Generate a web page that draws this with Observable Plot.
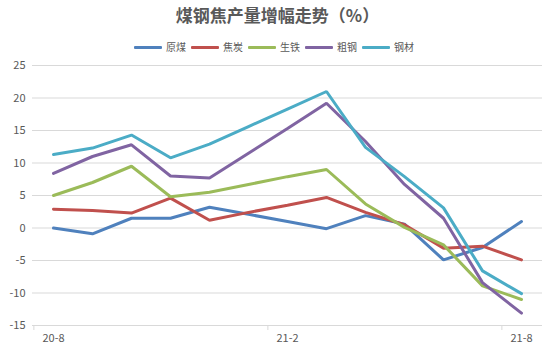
<!DOCTYPE html>
<html>
<head>
<meta charset="utf-8">
<script src="https://cdn.jsdelivr.net/npm/d3@7"></script>
<script src="https://cdn.jsdelivr.net/npm/@observablehq/plot@0.6"></script>
<style>
  html, body { margin: 0; padding: 0; background: #fff; }
  #wrap { position: relative; width: 555px; height: 352px; overflow: hidden; font-family: "Noto Sans CJK SC", "Noto Sans", sans-serif; }
  #title { position: absolute; left: 0; top: 3px; width: 555px; text-align: center; font-size: 17px; font-weight: bold; color: #595959; line-height: 24px; }
  #legend { position: absolute; left: 0; top: 38px; width: 553px; display: flex; justify-content: center; align-items: center; font-size: 10px; color: #595959; line-height: 18px; }
  .item { display: flex; align-items: center; margin-right: 5px; }
  .sw { width: 28px; height: 3px; margin-right: 4px; border-radius: 1px; }
  #chart { position: absolute; left: 0; top: 0; }
</style>
</head>
<body>
<div id="wrap">
  <div id="chart"></div>
  <div id="title">煤钢焦产量增幅走势（%）</div>
  <div id="legend"></div>
</div>
<script>
const months = ["20-8","20-9","20-10","20-11","20-12","21-1","21-2","21-3","21-4","21-5","21-6","21-7","21-8"];
const xTickLabels = ["20-8","21-2","21-8"];
const yTicks = [-15,-10,-5,0,5,10,15,20,25];
const seriesNames = ["原煤","焦炭","生铁","粗钢","钢材"];
const seriesColors = ["#4F81BD","#C0504D","#9BBB59","#8064A2","#4BACC6"];
const rawCoal = [0.0, -0.9, 1.5, 1.5, 3.2, 2.1, 1.0, -0.1, 1.9, 0.6, -4.9, -3.0, 1.0];
const coke    = [2.9, 2.7, 2.3, 4.6, 1.2, 2.4, 3.5, 4.7, 2.4, 0.5, -3.1, -2.8, -4.9];
const pigIron = [5.0, 7.0, 9.5, 4.8, 5.5, 6.7, 7.9, 9.0, 3.7, 0.1, -2.6, -8.9, -11.0];
const crudeSteel = [8.4, 11.0, 12.8, 8.0, 7.7, 11.5, 15.3, 19.2, 13.3, 6.7, 1.5, -8.4, -13.1];
const steelProducts = [11.3, 12.3, 14.3, 10.8, 12.9, 15.6, 18.3, 21.0, 12.4, 7.9, 3.1, -6.6, -10.1];

const seriesValues = [rawCoal, coke, pigIron, crudeSteel, steelProducts];
const data = [];
seriesNames.forEach((name, si) => {
  seriesValues[si].forEach((v, i) => data.push({series: name, month: months[i], value: v}));
});

const W = 555, H = 352, mL = 32, mR = 13, mT = 65, mB = 27;
const step = (W - mL - mR) / months.length;

const plot = Plot.plot({
  width: W,
  height: H,
  marginLeft: mL,
  marginRight: mR,
  marginTop: mT,
  marginBottom: mB,
  style: {fontFamily: '"Noto Sans CJK SC", "Noto Sans", sans-serif', fontSize: "11px", color: "#595959", background: "transparent"},
  x: {type: "point", domain: months, padding: 0.5, label: null},
  y: {domain: [-15, 25], label: null},
  color: {domain: seriesNames, range: seriesColors},
  marks: [
    Plot.ruleY(yTicks, {stroke: "#d9d9d9", strokeWidth: 1}),
    Plot.axisY(yTicks, {tickSize: 0, tickPadding: 7, tickFormat: d => String(d), fill: "#595959", fontSize: 11, label: null}),
    Plot.axisX(xTickLabels, {tickSize: 5, tickFormat: () => "", dx: -step / 2, stroke: "#d9d9d9", label: null}),
    Plot.axisX(xTickLabels, {tickSize: 0, tickPadding: 9, fill: "#595959", fontSize: 11, label: null}),
    Plot.line(data, {x: "month", y: "value", z: "series", stroke: "series", strokeWidth: 3, strokeLinejoin: "miter", strokeLinecap: "round"})
  ]
});
document.getElementById("chart").appendChild(plot);

const legend = document.getElementById("legend");
seriesNames.forEach((name, i) => {
  const item = document.createElement("div");
  item.className = "item";
  const sw = document.createElement("div");
  sw.className = "sw";
  sw.style.background = seriesColors[i];
  const label = document.createElement("span");
  label.textContent = name;
  item.appendChild(sw);
  item.appendChild(label);
  legend.appendChild(item);
});
</script>
</body>
</html>
